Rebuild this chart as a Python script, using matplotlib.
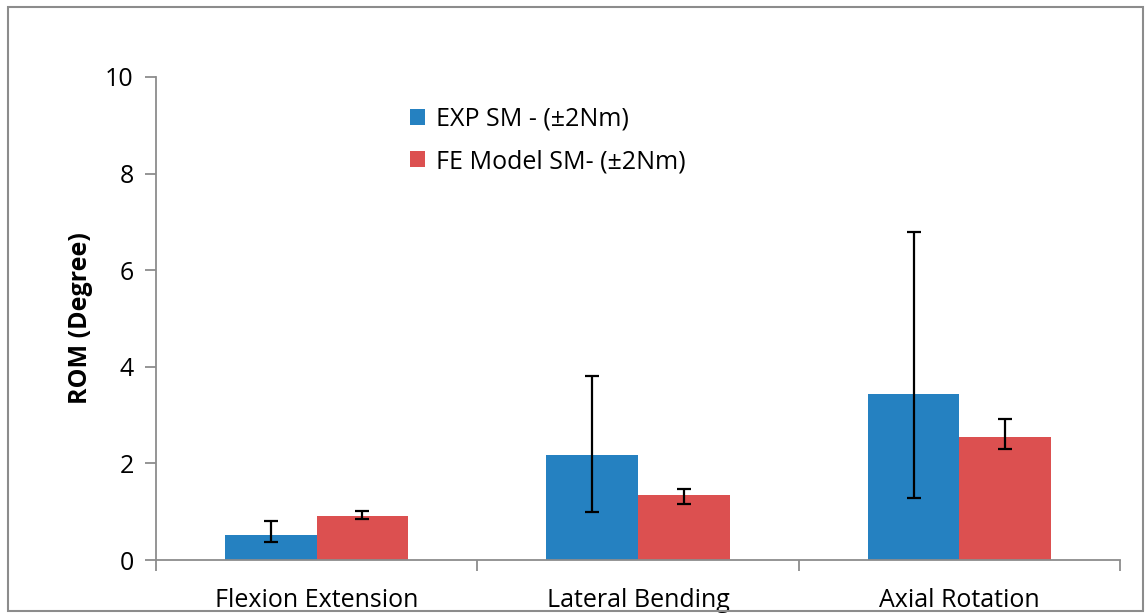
import matplotlib
matplotlib.use("Agg")
import matplotlib.pyplot as plt
from matplotlib.patches import Rectangle
import numpy as np

categories = ["Flexion Extension", "Lateral Bending", "Axial Rotation"]
series_names = ["EXP SM - (\u00b12Nm)", "FE Model SM- (\u00b12Nm)"]
exp_values = [0.51, 2.17, 3.44]
exp_err_low = [0.13, 1.17, 2.15]
exp_err_high = [0.30, 1.63, 3.35]
fe_values = [0.92, 1.35, 2.54]
fe_err_low = [0.07, 0.20, 0.24]
fe_err_high = [0.09, 0.11, 0.37]
yticks = [0, 2, 4, 6, 8, 10]

plt.rcParams['font.family'] = ['Open Sans', 'DejaVu Sans']

W, H = 1147, 615
fig = plt.figure(figsize=(W / 100, H / 100), dpi=100)
ax = fig.add_axes([156 / W, 1 - 560 / H, (1120 - 156) / W, (560 - 77) / H])

x = np.arange(len(categories))
bw = 0.285
blue = "#2581C1"
red = "#DC5050"
ax.bar(x - bw / 2, exp_values, bw, color=blue, label=series_names[0], zorder=2)
ax.bar(x + bw / 2, fe_values, bw, color=red, label=series_names[1], zorder=2)
ax.errorbar(x - bw / 2, exp_values, yerr=[exp_err_low, exp_err_high], fmt='none',
            ecolor='black', elinewidth=1.6, capsize=5, capthick=1.6, zorder=3)
ax.errorbar(x + bw / 2, fe_values, yerr=[fe_err_low, fe_err_high], fmt='none',
            ecolor='black', elinewidth=1.6, capsize=5, capthick=1.6, zorder=3)

fs = 18
ax.set_xlim(-0.5, 2.5)
ax.set_ylim(0, 10)
ax.set_yticks(yticks)
ax.set_yticklabels([str(t) for t in yticks], fontsize=fs)
ax.set_xticks([-0.5, 0.5, 1.5, 2.5])
ax.set_xticklabels([])
ax.set_xticks(x, minor=True)
ax.set_xticklabels(categories, minor=True, fontsize=fs)
ax.tick_params(axis='x', which='major', length=8, color='#8c8c8c', width=1.3, direction='out')
ax.tick_params(axis='x', which='minor', length=0, pad=20)
ax.tick_params(axis='y', length=8, color='#8c8c8c', width=1.3, direction='out', pad=8)

for s in ['top', 'right']:
    ax.spines[s].set_visible(False)
for s in ['left', 'bottom']:
    ax.spines[s].set_color('#8c8c8c')
    ax.spines[s].set_linewidth(1.3)

ax.set_ylabel("ROM (Degree)", fontsize=fs, fontweight='bold', labelpad=9)

leg = ax.legend(loc='upper left', bbox_to_anchor=(0.24, 0.985), frameon=False,
                fontsize=fs, handlelength=0.6, handleheight=0.6,
                handletextpad=0.45, labelspacing=0.7)

fig.add_artist(Rectangle((8 / W, 1 - 611 / H), (1143 - 8) / W, (611 - 7) / H,
                         transform=fig.transFigure, fill=False,
                         edgecolor='#8c8c8c', linewidth=1.5))

fig.savefig("out.png", dpi=100)
